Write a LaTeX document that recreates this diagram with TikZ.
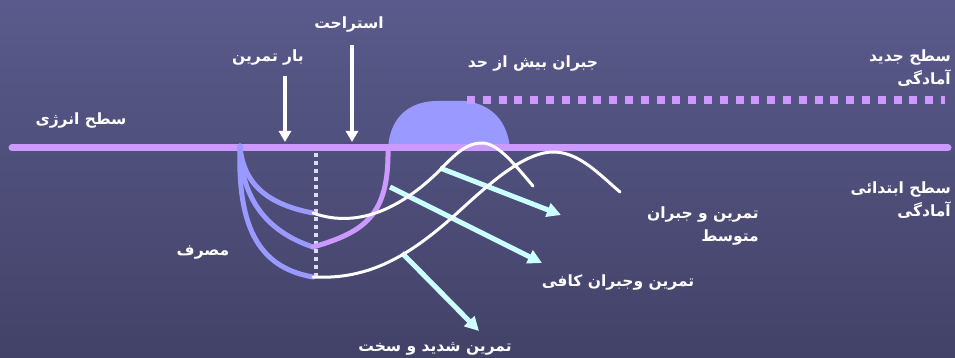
\documentclass[tikz,border=0pt]{standalone}
\usepackage{fontspec}
\newfontfamily\farsi[Script=Arabic]{DejaVu Sans}
\TeXXeTstate=1
\usetikzlibrary{arrows.meta}
\definecolor{bgtop}{RGB}{90,90,140}
\definecolor{bgbot}{RGB}{66,66,104}
\definecolor{lvl}{RGB}{204,153,255}
\definecolor{peri}{RGB}{153,153,255}
\definecolor{aqua}{RGB}{204,255,255}
\definecolor{dotw}{RGB}{220,220,240}
\newcommand\fatxt[1]{\beginR #1\endR}
\tikzset{
  lbl/.style={text=white,font=\farsi\bfseries\fontsize{15.5}{23}\selectfont,inner sep=0pt,align=right},
  downarrow/.style={white,line width=4pt,-{Triangle[width=12pt,length=11pt]}},
  cyanarrow/.style={aqua,line width=5pt,-{Triangle[width=14pt,length=14pt]}},
  bluecurve/.style={peri,line width=5pt,line cap=round},
  whitecurve/.style={white,line width=3pt,line cap=round},
}
\begin{document}
\begin{tikzpicture}[x=1pt,y=-1pt]
\useasboundingbox (0,0) rectangle (955,358);
\shade[top color=bgtop,bottom color=bgbot] (0,0) rectangle (955,358);

% coordinates
\coordinate (Ls) at (12,148);
\coordinate (Le) at (948,148);
\coordinate (Ns) at (467,100);
\coordinate (Ne) at (945,100);
\coordinate (Vs) at (316,153);
\coordinate (Ve) at (316,278);
\coordinate (O) at (240,146);
\coordinate (P1) at (313,213);
\coordinate (P2) at (313,247);
\coordinate (P3) at (313,277);
\coordinate (H) at (388,149);
\coordinate (B1s) at (285,76);
\coordinate (B1e) at (285,142);
\coordinate (B2s) at (352,45);
\coordinate (B2e) at (352,142);
\coordinate (A1s) at (440,168);
\coordinate (A1e) at (561,215);
\coordinate (A2s) at (390,187);
\coordinate (A2e) at (542,263);
\coordinate (A3s) at (402,253);
\coordinate (A3e) at (479,331);

% hump
\fill[peri] (H) .. controls (390,112) and (415,101) .. (437,101) -- (465,101)
  .. controls (492,104) and (508,122) .. (510,149) -- cycle;

% levels
\draw[lvl,line width=7pt,line cap=round] (Ls) -- (Le);
\draw[lvl,line width=8pt,dash pattern=on 8pt off 7.8pt] (Ns) -- (Ne);
\draw[dotw,line width=4pt,dash pattern=on 4pt off 4pt] (Vs) -- (Ve);

% consumption curves
\draw[bluecurve] (O) .. controls (243,182) and (265,204) .. (P1);
\draw[bluecurve] (O) .. controls (241,200) and (268,232) .. (P2);
\draw[bluecurve] (O) .. controls (237,232) and (262,268) .. (P3);
\draw[lvl,line width=5pt,line cap=round] (P2) .. controls (365,232) and (389,215) .. (H);

% arrows
\draw[cyanarrow] (A1s) -- (A1e);
\draw[cyanarrow] (A2s) -- (A2e);
\draw[cyanarrow] (A3s) -- (A3e);

% recovery curves
\draw[whitecurve] (P1) .. controls (360,230) and (405,205) .. (440,170)
  .. controls (458,151) and (468,143) .. (482,143)
  .. controls (498,143) and (515,165) .. (533,186);
\draw[whitecurve] (P3) .. controls (370,280) and (410,255) .. (455,215)
  .. controls (490,183) and (525,151) .. (555,152)
  .. controls (580,153) and (600,175) .. (620,192);

% load / rest arrows
\draw[downarrow] (B1s) -- (B1e);
\draw[downarrow] (B2s) -- (B2e);

% labels
\node[lbl] (rest) at (349,25) {\fatxt{استراحت}};
\node[lbl] (load) at (268,58) {\fatxt{بار تمرین}};
\node[lbl] (over) at (533,64) {\fatxt{جبران بیش از حد}};
\node[lbl,anchor=east] (newlvl) at (951,68) {\fatxt{سطح جدید}\\\fatxt{آمادگی}};
\node[lbl] (energy) at (81,121) {\fatxt{سطح انرژی}};
\node[lbl,anchor=east] (initlvl) at (951,200) {\fatxt{سطح ابتدائی}\\\fatxt{آمادگی}};
\node[lbl,anchor=east] (medium) at (759,226) {\fatxt{تمرین و جبران}\\\fatxt{متوسط}};
\node[lbl] (enough) at (618,283) {\fatxt{تمرین وجبران کافی}};
\node[lbl] (hard) at (435,349) {\fatxt{تمرین شدید و سخت}};
\node[lbl] (use) at (203,253) {\fatxt{مصرف}};
\end{tikzpicture}
\end{document}
